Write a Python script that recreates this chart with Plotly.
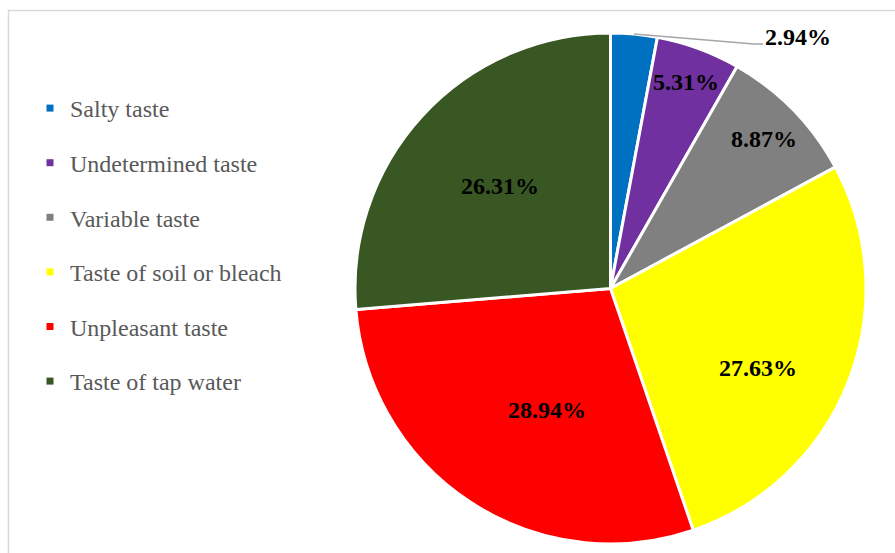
import math
import plotly.graph_objects as go

# Taste categories and their shares (percent)
categories = [
    "Salty taste",
    "Undetermined taste",
    "Variable taste",
    "Taste of soil or bleach",
    "Unpleasant taste",
    "Taste of tap water",
]
shares = [2.94, 5.31, 8.87, 27.63, 28.94, 26.31]
colors = ["#0070C0", "#7030A0", "#808080", "#FFFF00", "#FF0000", "#385723"]

# value label placement: radius as a fraction of the pie radius,
# plus a small angular nudge (degrees) away from the slice bisector
label_radius = [None, 0.86, 0.84, 0.655, 0.537, 0.59]
label_nudge = [0, 0, 0, 7, -5.5, 0]

W, H = 895, 553
dom_x = [355 / W, 866 / W]
dom_y = [9 / H, 520 / H]

fig = go.Figure()
fig.add_trace(go.Pie(
    labels=categories,
    values=shares,
    sort=False,
    direction="clockwise",
    rotation=0,
    marker=dict(colors=colors, line=dict(color="white", width=3)),
    textinfo="none",
    hoverinfo="label+percent",
    showlegend=False,
    domain=dict(x=dom_x, y=dom_y),
))

# legend entries (square swatches) for each category
for name, col in zip(categories, colors):
    fig.add_trace(go.Scatter(
        x=[None], y=[None], mode="markers", name=name,
        legendgroup=name,
        marker=dict(symbol="square", size=7, color=col),
    ))

# pie geometry in pixels, derived from the domain
cx = (dom_x[0] + dom_x[1]) / 2 * W
cy = (1 - (dom_y[0] + dom_y[1]) / 2) * H
R = (dom_x[1] - dom_x[0]) * W / 2

def to_paper(px, py):
    return px / W, 1 - py / H

label_font = dict(family="Liberation Serif", size=24, color="black")
annotations = []
shapes = []
total = sum(shares)
cum = 0.0
for i, v in enumerate(shares):
    mid = (cum + v / 2) / total * 2 * math.pi
    cum += v
    text = f"<b>{v:.2f}%</b>"
    if label_radius[i] is None:
        # small slice: label outside with a leader line
        ex, ey = cx + R * math.sin(mid), cy - R * math.cos(mid)
        bx, by = ex + 120, ey + 10
        tx, ty = bx + 9, by
        p = [to_paper(ex, ey), to_paper(bx, by), to_paper(tx, ty)]
        shapes.append(dict(
            type="path", xref="paper", yref="paper",
            path=f"M {p[0][0]},{p[0][1]} L {p[1][0]},{p[1][1]} L {p[2][0]},{p[2][1]}",
            line=dict(color="#A6A6A6", width=1.5),
        ))
        axp, ayp = to_paper(tx, ty - 7)
        annotations.append(dict(
            x=axp, y=ayp, xref="paper", yref="paper", text=text,
            showarrow=False, xanchor="left", yanchor="middle",
            font=label_font,
        ))
    else:
        r = label_radius[i] * R
        a = mid + math.radians(label_nudge[i])
        lx, ly = cx + r * math.sin(a), cy - r * math.cos(a)
        axp, ayp = to_paper(lx, ly)
        annotations.append(dict(
            x=axp, y=ayp, xref="paper", yref="paper", text=text,
            showarrow=False, xanchor="center", yanchor="middle",
            font=label_font,
        ))

# light grey chart frame
shapes.append(dict(
    type="rect", xref="paper", yref="paper",
    x0=8.5 / W, x1=1.05, y0=-0.05, y1=1 - 10.5 / H,
    line=dict(color="#D9D9D9", width=1.5), fillcolor="rgba(0,0,0,0)",
))

fig.update_layout(
    width=W, height=H,
    margin=dict(l=0, r=0, t=0, b=0),
    paper_bgcolor="white", plot_bgcolor="white",
    xaxis=dict(visible=False), yaxis=dict(visible=False),
    showlegend=True,
    legend=dict(
        x=30 / W, y=1 - 86 / H, xanchor="left", yanchor="top",
        font=dict(family="Liberation Serif", size=24, color="#595959"),
        tracegroupgap=20.4, traceorder="grouped",
        bgcolor="rgba(0,0,0,0)",
    ),
    annotations=annotations,
    shapes=shapes,
)

fig.write_html("out.html")
